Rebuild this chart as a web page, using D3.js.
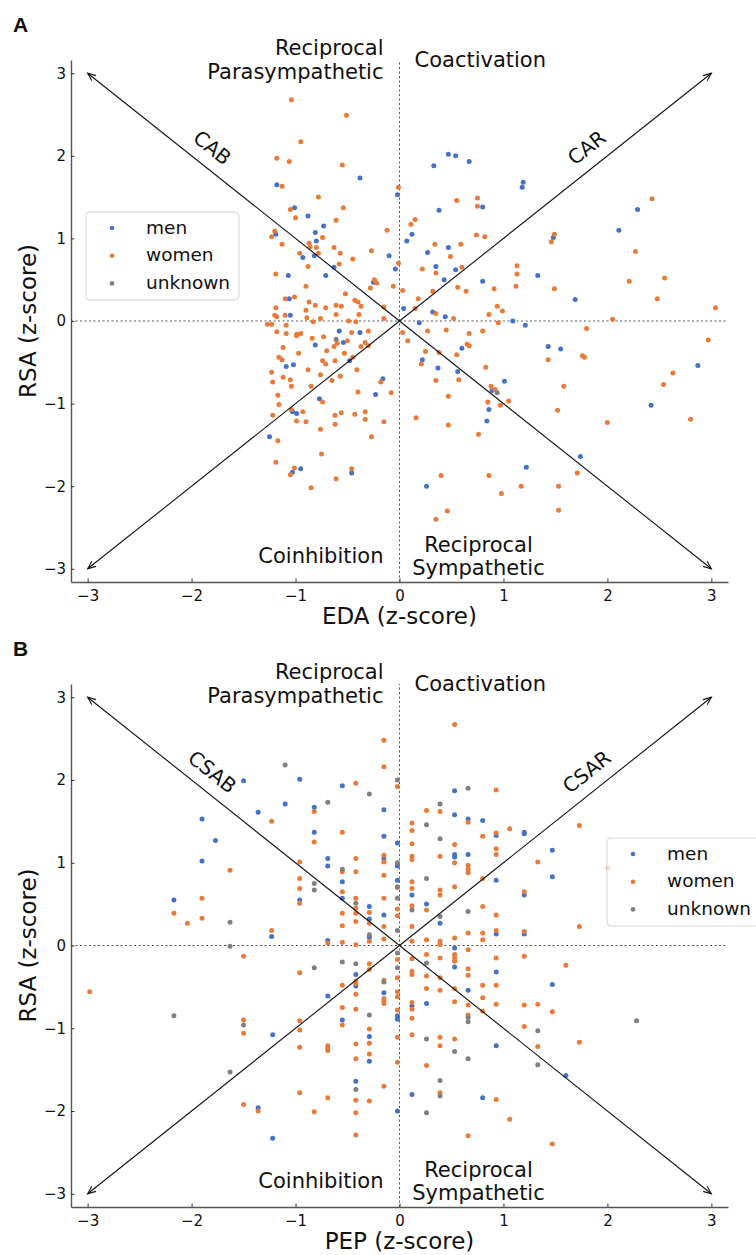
<!DOCTYPE html>
<html>
<head>
<meta charset="utf-8">
<script src="https://cdn.jsdelivr.net/npm/d3@7"></script>
<style>
  body { margin: 0; background: #fff; }
  text { font-family: "DejaVu Sans", sans-serif; fill: #111; }
</style>
</head>
<body>
<svg id="fig" width="756" height="1255"></svg>
<script>
// ---- data (z-scores) ----
var ticks = [-3, -2, -1, 0, 1, 2, 3];
var groups = ["men", "women", "unknown"];
var groupColors = ["#4472c4", "#e97b3a", "#808080"];

// panel A : EDA vs RSA
var edaMen = [[-0.38,1.73],[-1.18,1.65],[-0.02,1.53],[-1.01,1.37],[-0.88,1.27],[-0.73,1.15],[-0.81,1.07],[-1.19,1.05],[-0.80,0.97],[-0.93,0.77],[-0.82,0.79],[-0.10,0.79],[-0.63,0.65],[-0.04,0.63],[-1.07,0.55],[-0.71,0.55],[-0.25,0.47],[-1.06,0.27],[-1.05,0.07],
  [-0.58,-0.12],[-0.38,-0.14],[-0.54,-0.26],[-0.81,-0.29],[-0.48,-0.48],[-1.02,-0.53],[-1.09,-0.55],[-0.16,-0.70],[-0.23,-0.89],[-0.77,-0.94],[-1.03,-1.10],[-0.99,-1.12],[-1.25,-1.40],[-0.95,-1.79],[-1.03,-1.83],[-0.46,-1.84],
  [0.47,2.02],[0.54,2.00],[0.67,1.93],[0.33,1.88],[1.19,1.68],[1.18,1.62],[0.80,1.38],[2.29,1.35],[0.38,1.34],[0.12,1.05],[0.07,0.97],[2.11,1.10],[1.48,1.01],[0.47,0.89],[0.27,0.83],[0.35,0.66],[0.54,0.62],[1.33,0.55],[0.43,0.50],[0.80,0.48],[1.69,0.26],[0.04,0.15],[0.32,0.11],[0.44,0.05],[1.09,0.00],[0.19,-0.02],[1.21,-0.05],
  [0.60,-0.33],[1.43,-0.31],[1.55,-0.34],[0.22,-0.47],[0.37,-0.57],[0.56,-0.61],[2.87,-0.54],[1.01,-0.73],[0.89,-0.84],[2.42,-1.02],[0.86,-1.07],[0.84,-1.21],[1.74,-1.64],[1.22,-1.77],[0.26,-2.00]];
var edaWomen = [[-1.04,2.68],[-0.51,2.49],[-0.95,2.17],[-1.18,1.97],[-1.06,1.93],[-0.55,1.89],[-1.13,1.63],[-0.01,1.62],[-0.78,1.50],[-1.05,1.35],[-0.54,1.37],[-1.00,1.25],[-0.61,1.22],[-0.12,1.10],[-1.20,1.09],[-1.23,1.02],[-0.74,1.01],[-1.13,0.93],[-0.87,0.94],[-0.86,0.90],[-0.80,0.89],[-0.63,0.89],[-0.27,0.85],[-0.96,0.82],[-0.78,0.82],[-0.57,0.82],[-0.45,0.75],[-0.58,0.69],[-0.88,0.66],[-0.01,0.70],[-1.19,0.57],[-0.24,0.50],[-0.22,0.46],[-0.06,0.42],[-0.28,0.40],[-0.90,0.42],[-0.52,0.33],[-1.10,0.27],[-1.01,0.29],[-0.87,0.23],[-0.81,0.19],[-0.71,0.16],[-0.61,0.19],[-0.56,0.18],[-0.43,0.25],[-0.40,0.23],[-0.37,0.18],[-0.15,0.17],[-1.19,0.16],[-0.90,0.13],[-1.20,0.07],[-1.18,0.05],[-1.10,0.07],[-0.89,0.04],[-0.61,0.08],[-0.39,0.08],[-0.15,0.03],[-0.76,0.03],[-0.49,0.00],[-0.42,-0.01],[-0.83,-0.01],[-1.27,-0.04],[-1.23,-0.04],[-1.09,-0.05],
  [-0.30,-0.12],[-0.46,-0.14],[-1.18,-0.13],[-1.09,-0.15],[-0.99,-0.16],[-0.99,-0.18],[-0.95,-0.15],[-0.84,-0.21],[-0.73,-0.19],[-0.60,-0.27],[-0.50,-0.24],[-0.37,-0.31],[-0.33,-0.26],[-0.30,-0.30],[-0.63,-0.31],[-1.12,-0.32],[-0.70,-0.36],[-0.53,-0.39],[-0.97,-0.39],[-1.16,-0.44],[-1.13,-0.47],[-0.45,-0.44],[-0.74,-0.48],[-0.71,-0.52],[-0.62,-0.48],[-0.88,-0.59],[-0.41,-0.59],[-1.23,-0.62],[-0.76,-0.65],[-0.57,-0.67],[-1.12,-0.68],[-1.05,-0.71],[-0.65,-0.72],[-1.22,-0.74],[-0.18,-0.74],[-1.04,-0.79],[-0.85,-0.79],[-0.40,-0.86],[-0.08,-0.87],[-1.17,-0.90],[-0.74,-0.98],[-1.16,-1.01],[-1.04,-1.07],[-0.93,-1.10],[-0.56,-1.11],[-0.62,-1.14],[-0.43,-1.13],[-0.33,-1.10],[-1.22,-1.14],[-0.99,-1.21],[-0.90,-1.22],[-0.33,-1.19],[-0.15,-1.22],[-0.62,-1.25],[-0.76,-1.31],[-0.27,-1.40],[-1.17,-1.45],[-0.75,-1.61],[-1.19,-1.71],[-1.01,-1.78],[-0.46,-1.79],[-1.05,-1.86],[-0.61,-1.91],[-0.85,-2.02],
  [0.55,1.46],[0.75,1.49],[0.75,1.39],[2.43,1.48],[0.15,1.23],[0.11,1.17],[1.49,1.05],[1.46,0.96],[0.74,1.04],[0.82,1.02],[0.34,0.93],[0.59,0.93],[0.49,0.78],[2.27,0.84],[0.22,0.63],[0.35,0.58],[0.60,0.65],[1.13,0.67],[1.13,0.57],[2.55,0.52],[2.21,0.48],[0.03,0.37],[0.56,0.41],[0.64,0.36],[0.32,0.36],[0.91,0.39],[1.12,0.42],[1.49,0.39],[0.18,0.27],[2.48,0.27],[0.15,0.15],[0.94,0.18],[0.99,0.12],[0.86,0.08],[3.04,0.16],[0.35,0.09],[0.52,0.03],[2.05,0.02],[0.95,-0.02],[1.80,-0.09],
  [0.03,-0.14],[0.27,-0.12],[0.45,-0.11],[0.67,-0.15],[0.80,-0.12],[0.08,-0.24],[2.97,-0.23],[0.65,-0.28],[0.67,-0.30],[0.25,-0.37],[0.38,-0.38],[0.55,-0.41],[1.76,-0.42],[1.78,-0.44],[1.43,-0.47],[0.21,-0.52],[0.83,-0.56],[2.63,-0.63],[0.35,-0.72],[0.57,-0.71],[2.54,-0.77],[0.88,-0.79],[1.58,-0.79],[0.92,-0.83],[0.47,-0.91],[0.85,-0.98],[1.05,-0.97],[0.97,-1.02],[1.52,-1.08],[0.16,-1.17],[2.00,-1.23],[2.80,-1.19],[0.47,-1.26],[0.76,-1.37],[1.71,-1.84],[0.40,-1.87],[0.86,-1.87],[1.17,-2.00],[1.53,-2.00],[0.98,-2.09],[1.53,-2.29],[0.46,-2.30],[0.35,-2.40]];
var edaUnknown = [[-0.61,-0.22],[0.94,-0.87]];

// panel B : PEP vs RSA
var pepMen = [[-1.50,1.99],[-0.96,2.01],[-0.55,1.93],[-1.10,1.71],[-0.82,1.67],[-1.36,1.61],[-0.15,1.64],[-1.90,1.53],[-1.77,1.27],[-0.82,1.37],[-0.15,1.32],[-0.02,1.24],[-1.90,1.02],[-0.69,1.05],[-0.69,0.96],[-0.15,1.05],[-0.02,0.96],[-0.55,0.77],[-0.02,0.79],[-0.55,0.57],[-0.96,0.55],[-2.17,0.55],[-0.29,0.47],[-0.15,0.37],[-0.29,0.32],[-1.23,0.11],[-0.29,0.10],[-0.69,0.06],
  [0.53,1.87],[0.53,1.58],[0.66,1.53],[0.80,1.51],[1.20,1.37],[1.20,1.35],[0.93,1.33],[1.47,1.15],[0.53,1.10],[0.53,1.07],[0.66,1.10],[1.47,0.83],[0.93,0.79],[1.20,0.61],[0.12,0.61],[0.26,0.50],[0.39,0.27],[0.93,0.14],[1.20,0.14],[0.53,-0.03],
  [-0.42,-0.35],[-0.42,-0.49],[-0.69,-0.61],[-0.15,-0.57],[-0.55,-0.90],[-0.29,-1.10],[-0.29,-1.40],[-1.22,-1.08],[-0.42,-1.64],[-1.36,-1.96],[-0.02,-2.00],[-1.22,-2.33],[-0.02,-0.85],[-0.02,-0.89],
  [0.12,-0.73],[0.12,-1.80],[0.26,-0.70],[0.53,-0.26],[0.66,-0.54],[0.80,-1.84],[0.93,-0.32],[0.93,-1.21],[1.47,-0.47],[1.60,-1.57]];
var pepWomen = [[-0.15,2.48],[-0.15,2.16],[-0.42,1.96],[-0.02,1.92],[-0.82,1.62],[-1.23,1.50],[-0.82,1.25],[-0.55,1.37],[-1.63,0.91],[-0.96,1.01],[-0.42,1.05],[-0.15,1.09],[-0.15,1.01],[-0.55,0.89],[-0.42,0.89],[-0.96,0.81],[-0.96,0.69],[-0.15,0.85],[-0.02,0.70],[-0.55,0.65],[-0.15,0.57],[-0.42,0.57],[-0.42,0.45],[-0.96,0.51],[-1.90,0.57],[-2.17,0.39],[-2.04,0.27],[-1.90,0.33],[-0.29,0.40],[-0.55,0.39],[-0.42,0.39],[-0.55,0.24],[-0.42,0.29],[-0.29,0.27],[-0.15,0.23],[-0.15,0.08],[-1.23,0.18],[-0.29,0.05],[-0.69,0.03],[-0.55,0.04],[-0.42,0.01],[-0.02,0.44],[-0.02,0.36],[-1.50,-0.13],
  [0.53,2.67],[0.93,1.88],[0.26,1.63],[0.39,1.62],[0.66,1.49],[0.12,1.48],[1.73,1.45],[1.06,1.41],[0.12,1.39],[0.93,1.36],[0.80,1.32],[0.12,1.23],[0.53,1.22],[0.93,1.17],[0.93,1.10],[0.39,1.08],[0.12,1.08],[0.12,1.04],[0.53,1.00],[0.66,0.97],[0.66,0.92],[0.66,0.88],[1.33,1.01],[0.80,0.81],[0.12,0.77],[0.53,0.71],[0.12,0.69],[0.39,0.67],[0.39,0.61],[1.20,0.65],[0.12,0.48],[0.26,0.43],[0.80,0.47],[0.93,0.37],[1.73,0.23],[0.12,0.23],[0.66,0.15],[0.93,0.18],[1.20,0.17],[0.80,0.15],[0.26,0.07],[0.53,0.09],[0.39,0.05],[0.39,0.01],[0.80,0.07],[0.12,0.05],[0.66,-0.05],[2.01,0.94],
  [-2.98,-0.56],[-0.96,-0.33],[-0.29,-0.22],[-0.29,-0.29],[-0.42,-0.43],[-0.42,-0.46],[-0.55,-0.48],[-0.15,-0.42],[-0.42,-0.59],[-0.15,-0.64],[-0.15,-0.67],[-0.15,-0.70],[-0.55,-0.75],[-0.42,-0.77],[-1.50,-0.90],[-1.50,-1.06],[-0.96,-0.91],[-0.96,-1.02],[-0.55,-0.96],[-0.29,-1.01],[-0.29,-1.18],[-0.29,-1.31],[-0.96,-1.23],[-0.69,-1.21],[-0.69,-1.24],[-0.69,-1.27],[-0.42,-1.19],[-0.42,-1.37],[-0.15,-1.70],[-0.96,-1.78],[-0.69,-1.84],[-0.42,-1.87],[-0.29,-1.88],[-1.50,-1.92],[-1.36,-2.00],[-0.82,-2.01],[-0.42,-2.02],[-0.42,-2.29],[-0.02,-0.17],[-0.02,-0.39],[-0.02,-0.56],[-0.02,-0.62],[-0.02,-0.78],[-0.02,-1.11],[-0.02,-1.41],
  [0.12,-0.16],[0.12,-0.31],[0.12,-0.35],[0.12,-0.69],[0.12,-0.77],[0.12,-0.88],[0.12,-1.08],[0.26,-0.11],[0.26,-0.37],[0.26,-0.52],[0.26,-1.45],[0.39,-0.15],[0.39,-0.39],[0.39,-0.54],[0.39,-1.11],[0.39,-1.21],[0.39,-1.78],[0.53,-0.11],[0.53,-0.15],[0.53,-0.19],[0.53,-0.52],[0.53,-0.68],[0.53,-1.13],[0.66,-0.28],[0.66,-0.36],[0.66,-0.72],[0.66,-0.84],[0.66,-2.30],[0.80,-0.48],[0.80,-0.63],[0.80,-0.79],[0.93,-0.15],[0.93,-0.48],[0.93,-0.71],[0.93,-1.86],[1.06,-2.10],[1.20,-0.13],[1.20,-0.72],[1.20,-0.98],[1.33,-0.71],[1.33,-1.22],[1.47,-0.80],[1.47,-2.40],[1.60,-0.24],[1.73,-1.17]];
var pepUnknown = [[-1.10,2.18],[-0.02,2.00],[-0.29,1.83],[-0.69,1.73],[-0.02,1.00],[-0.55,0.92],[-0.82,0.75],[-0.82,0.67],[-0.02,0.71],[-0.02,0.57],[-0.42,0.51],[-1.63,0.28],[-0.29,0.13],[-0.02,0.18],[-1.63,-0.01],[-0.02,-0.09],
  [0.66,1.90],[0.39,1.71],[0.26,1.46],[0.39,1.29],[0.26,0.81],[0.12,0.43],[0.66,0.41],[0.39,0.35],
  [-2.17,-0.85],[-0.82,-0.27],[-0.55,-0.20],[-0.42,-0.22],[-0.15,-0.44],[-0.29,-0.84],[-1.50,-0.96],[-1.63,-1.53],[-0.42,-1.74],[-0.02,-0.27],
  [0.26,-0.21],[0.26,-1.13],[0.26,-2.02],[0.39,-1.63],[0.39,-1.82],[0.53,-1.28],[0.66,-0.87],[0.66,-0.92],[0.66,-1.37],[1.33,-1.03],[1.33,-1.44],[2.28,-0.91]];

var svg = d3.select("#fig");
var defs = svg.append("defs");
defs.append("marker")
    .attr("id", "arrow")
    .attr("viewBox", "-10 -5 12 10")
    .attr("refX", 0).attr("refY", 0)
    .attr("markerWidth", 12).attr("markerHeight", 10)
    .attr("markerUnits", "userSpaceOnUse")
    .attr("orient", "auto")
    .append("path")
    .attr("d", "M-8,-3.3L0,0L-8,3.3")
    .attr("fill", "none")
    .attr("stroke", "#111")
    .attr("stroke-width", 1.1);

function drawPanel(cfg) {
    var x = d3.scaleLinear().domain([-3.16, 3.16]).range([71, 728]);
    var y = d3.scaleLinear().domain([-3.16, 3.16]).range([cfg.bottom, cfg.top]);
    var g = svg.append("g");
    var fmt = d3.format("d");

    // axes
    var xAxis = g.append("g")
        .attr("transform", "translate(0," + cfg.bottom + ")")
        .call(d3.axisBottom(x).tickValues(ticks).tickFormat(fmt).tickSizeInner(-3.5).tickSizeOuter(0).tickPadding(8));
    var yAxis = g.append("g")
        .attr("transform", "translate(71,0)")
        .call(d3.axisLeft(y).tickValues(ticks).tickFormat(fmt).tickSizeInner(-3.5).tickSizeOuter(0).tickPadding(5));
    [xAxis, yAxis].forEach(function(a) {
        a.select(".domain").attr("stroke", "#555").attr("stroke-width", 1.4);
        a.selectAll(".tick line").attr("stroke", "#333");
        a.selectAll(".tick text")
            .style("font-family", "DejaVu Sans")
            .style("font-size", "15px")
            .attr("fill", "#111");
    });

    // zero reference lines
    g.append("line")
        .attr("x1", x(0)).attr("x2", x(0))
        .attr("y1", cfg.bottom).attr("y2", cfg.top)
        .attr("stroke", "#555").attr("stroke-width", 1)
        .attr("stroke-dasharray", "2,2.5");
    g.append("line")
        .attr("x1", 71).attr("x2", 728)
        .attr("y1", y(0)).attr("y2", y(0))
        .attr("stroke", "#555").attr("stroke-width", 1)
        .attr("stroke-dasharray", "2,2.5");

    // scatter points
    cfg.series.forEach(function(pts, i) {
        g.append("g")
            .selectAll("circle")
            .data(pts)
            .enter()
            .append("circle")
            .attr("cx", function(d) { return x(d[0]); })
            .attr("cy", function(d) { return y(d[1]); })
            .attr("r", 2.5)
            .attr("fill", groupColors[i]);
    });

    // diagonal arrows from the origin
    var corners = [[3, 3], [-3, 3], [-3, -3], [3, -3]];
    g.selectAll(".diag")
        .data(corners)
        .enter()
        .append("line")
        .attr("class", "diag")
        .attr("x1", x(0)).attr("y1", y(0))
        .attr("x2", function(d) { return x(d[0]); })
        .attr("y2", function(d) { return y(d[1]); })
        .attr("stroke", "#111")
        .attr("stroke-width", 1.1)
        .attr("marker-end", "url(#arrow)");

    var ang = Math.atan2(y(3) - y(0), x(3) - x(0)) * 180 / Math.PI;
    [[cfg.diagLabels[0], -1.8, 2.1, -ang], [cfg.diagLabels[1], 1.8, 2.1, ang]].forEach(function(t) {
        g.append("text")
            .attr("transform", "translate(" + x(t[1]) + "," + y(t[2]) + ") rotate(" + t[3] + ")")
            .attr("text-anchor", "middle")
            .attr("dy", "0.36em")
            .style("font-size", "20px")
            .text(t[0]);
    });

    // quadrant labels
    var q = g.append("g").style("font-size", "21px");
    q.append("text").attr("x", x(0) - 16).attr("y", cfg.top - 5.5).attr("text-anchor", "end").text("Reciprocal");
    q.append("text").attr("x", x(0) - 16).attr("y", cfg.top + 19).attr("text-anchor", "end").text("Parasympathetic");
    q.append("text").attr("x", x(0) + 15).attr("y", cfg.top + 6.5).text("Coactivation");
    q.append("text").attr("x", x(0) - 16).attr("y", cfg.bottom - 19).attr("text-anchor", "end").text("Coinhibition");
    q.append("text").attr("x", x(0) + 79).attr("y", cfg.bottom - 30.5).attr("text-anchor", "middle").text("Reciprocal");
    q.append("text").attr("x", x(0) + 79).attr("y", cfg.bottom - 7.5).attr("text-anchor", "middle").text("Sympathetic");

    // axis titles
    g.append("text")
        .attr("x", (71 + 728) / 2).attr("y", cfg.bottom + 42)
        .attr("text-anchor", "middle")
        .style("font-size", "23px")
        .text(cfg.xLabel);
    g.append("text")
        .attr("transform", "translate(36," + (cfg.top + cfg.bottom) / 2 + ") rotate(-90)")
        .attr("text-anchor", "middle")
        .style("font-size", "23px")
        .text("RSA (z-score)");

    // panel letter
    g.append("text")
        .attr("x", 13).attr("y", cfg.top - 28)
        .style("font-family", "Liberation Sans, Arial, sans-serif")
        .style("font-weight", "bold")
        .style("font-size", "21px")
        .text(cfg.letter);

    // legend (semi-transparent frame drawn over the points)
    var lg = g.append("g").attr("transform", "translate(" + cfg.legend[0] + "," + cfg.legend[1] + ")");
    lg.append("rect")
        .attr("width", 153).attr("height", 88)
        .attr("rx", 4)
        .attr("fill", "#fff").attr("fill-opacity", 0.8)
        .attr("stroke", "#d4d4d4");
    groups.forEach(function(name, i) {
        lg.append("circle")
            .attr("cx", 26).attr("cy", 16 + i * 27.7)
            .attr("r", 2.3)
            .attr("fill", groupColors[i]);
        lg.append("text")
            .attr("x", 60).attr("y", 16 + i * 27.7 + 5.5)
            .style("font-size", "18.5px")
            .text(name);
    });
}

drawPanel({
    letter: "A", top: 60, bottom: 582, xLabel: "EDA (z-score)",
    diagLabels: ["CAB", "CAR"], legend: [86, 212],
    series: [edaMen, edaWomen, edaUnknown]
});
drawPanel({
    letter: "B", top: 684, bottom: 1207, xLabel: "PEP (z-score)",
    diagLabels: ["CSAB", "CSAR"], legend: [607, 838],
    series: [pepMen, pepWomen, pepUnknown]
});
</script>
</body>
</html>
